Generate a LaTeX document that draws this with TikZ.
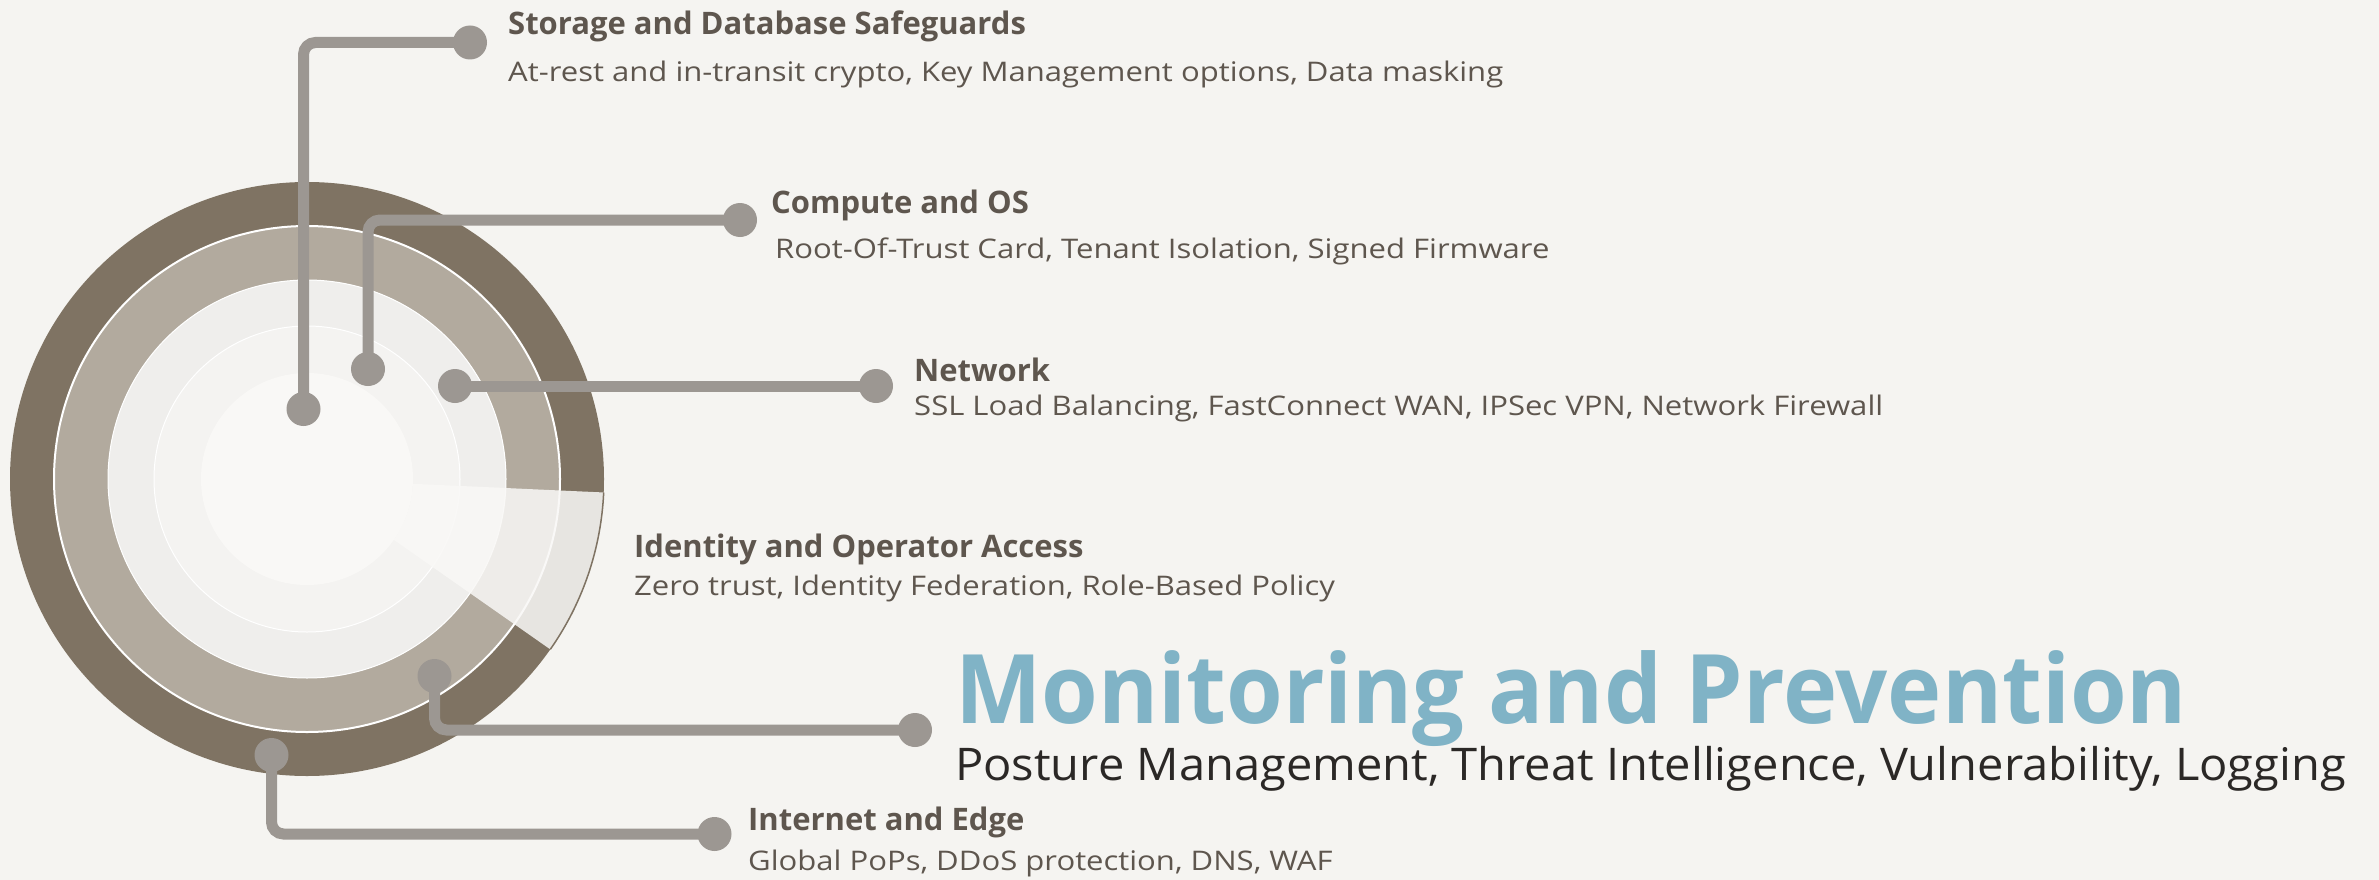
\documentclass[tikz,border=0pt]{standalone}
\usepackage{fontspec}
\usetikzlibrary{calc}
\setmainfont{Open Sans}
\newfontfamily\bodyf[FakeStretch=1.15]{Open Sans}
\newfontfamily\monf[FakeStretch=0.955]{Open Sans}
\newfontfamily\postf[FakeStretch=1.045]{Open Sans}
\definecolor{bgc}{HTML}{F5F4F1}
\definecolor{ringA}{HTML}{7F7363}
\definecolor{ringB}{HTML}{B2AA9E}
\definecolor{ringC}{HTML}{EFEEEC}
\definecolor{ringD}{HTML}{F4F3F1}
\definecolor{ringE}{HTML}{F9F8F6}
\definecolor{conn}{HTML}{9C9792}
\definecolor{txt}{HTML}{5E564E}
\definecolor{mon}{HTML}{80B3C6}
\definecolor{dark}{HTML}{2B2826}
\tikzset{
  dotnode/.style={circle,fill=conn,inner sep=0pt,minimum size=34pt},
  connline/.style={draw=conn,line width=11pt,rounded corners=12pt},
  ttl/.style={anchor=base west,inner sep=0pt,text=txt,font=\fontsize{31}{36}\selectfont\bfseries},
  body/.style={anchor=base west,inner sep=0pt,text=txt,font=\bodyf\fontsize{27}{34}\selectfont},
}
\begin{document}
\begin{tikzpicture}[x=1pt,y=-1pt]
\fill[bgc] (0,0) rectangle (2379,880);
\useasboundingbox (0,0) rectangle (2379,880);
\coordinate (C) at (307,479);
% rings
\fill[ringA] (C) circle[radius=297];
\fill[ringB] (C) circle[radius=253];
\draw[white,line width=2pt] (C) circle[radius=253];
\fill[ringC] (C) circle[radius=199];
\draw[white,line width=1pt] (C) circle[radius=199];
\fill[ringD] (C) circle[radius=153];
\draw[white,line width=1pt] (C) circle[radius=153];
\fill[ringE] (C) circle[radius=106];
% wedge (annular sector)
\fill[ringE,opacity=0.86] ($(C)+(2.6:106)$) -- ($(C)+(2.6:297)$) arc[start angle=2.6,end angle=35,radius=297] -- ($(C)+(35:106)$) arc[start angle=35,end angle=2.6,radius=106] -- cycle;
\draw[ringA,line width=1.5pt] ($(C)+(2.6:297)$) arc[start angle=2.6,end angle=35,radius=297];
% dots
\node[dotnode] (s1) at (303.5,409) {};
\node[dotnode] (s2) at (470,42.5) {};
\node[dotnode] (c1) at (368,369) {};
\node[dotnode] (c2) at (740,220) {};
\node[dotnode] (n1) at (455,386) {};
\node[dotnode] (n2) at (876,386) {};
\node[dotnode] (m1) at (434.5,676) {};
\node[dotnode] (m2) at (915,730) {};
\node[dotnode] (i1) at (271.5,755) {};
\node[dotnode] (i2) at (714.5,834) {};
% connectors
\draw[connline] (s1.center) |- (s2.center);
\draw[connline] (c1.center) |- (c2.center);
\draw[connline] (n1.center) -- (n2.center);
\draw[connline] (m1.center) |- (m2.center);
\draw[connline] (i1.center) |- (i2.center);
% texts
\node[ttl] (t1) at (508,35) {Storage and Database Safeguards};
\node[body] (b1) at (508,82) {At-rest and in-transit crypto, Key Management options, Data masking};
\node[ttl] (t2) at (771,213) {Compute and OS};
\node[body] (b2) at (775,258) {Root-Of-Trust Card, Tenant Isolation, Signed Firmware};
\node[ttl] (t3) at (914,381) {Network};
\node[body] (b3) at (914,415) {SSL Load Balancing, FastConnect WAN, IPSec VPN, Network Firewall};
\node[ttl] (t4) at (634,557) {Identity and Operator Access};
\node[body] (b4) at (634,595) {Zero trust, Identity Federation, Role-Based Policy};
\node[anchor=base west,inner sep=0pt,text=mon,font=\monf\fontsize{96}{100}\selectfont\bfseries] (t5) at (955,723) {Monitoring and Prevention};
\node[anchor=base west,inner sep=0pt,text=dark,font=\postf\fontsize{45}{50}\selectfont] (b5) at (955,780) {Posture Management, Threat Intelligence, Vulnerability, Logging};
\node[ttl] (t6) at (748,830) {Internet and Edge};
\node[body] (b6) at (748,870) {Global PoPs, DDoS protection, DNS, WAF};
\end{tikzpicture}
\end{document}
